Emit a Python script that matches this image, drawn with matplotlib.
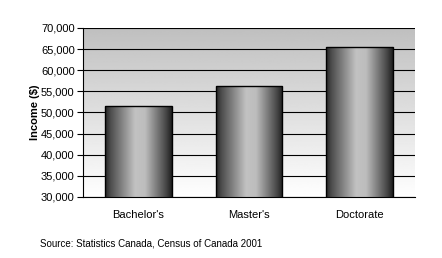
import matplotlib
matplotlib.use('Agg')
import matplotlib.pyplot as plt
import numpy as np
from matplotlib.ticker import FuncFormatter

# data
degrees = ["Bachelor's", "Master's", "Doctorate"]
income = [51600, 56200, 65400]
y_ticks = [30000, 35000, 40000, 45000, 50000, 55000, 60000, 65000, 70000]

plt.rcParams['font.family'] = ['Liberation Sans', 'DejaVu Sans']

fig = plt.figure(figsize=(4.42, 2.58), dpi=100)
ax = fig.add_axes([83/442, 1 - 197/258, 332/442, 169/258])

ax.set_xlim(-0.5, len(degrees) - 0.5)
ax.set_ylim(y_ticks[0], y_ticks[-1])

# background: grey at top fading to white
bg = np.linspace(1.0, 0.75, 256).reshape(-1, 1)
ax.imshow(bg, cmap='gray', vmin=0, vmax=1, aspect='auto',
          extent=[0, 1, 0, 1], transform=ax.transAxes, origin='lower', zorder=0)

# gridlines
for t in y_ticks:
    ax.axhline(t, color='black', lw=0.8, zorder=1)

# cylinder shading profile across a bar
xs = np.linspace(0, 1, 200)
shade = np.interp(xs, [0, 0.08, 0.45, 0.6, 0.9, 1.0],
                  [0.15, 0.3, 0.76, 0.74, 0.3, 0.12])
shade = shade.reshape(1, -1)

bars = ax.bar(range(len(degrees)), income, width=0.6, bottom=0,
              color='none', edgecolor='black', linewidth=1.0, zorder=3)
for b in bars:
    x0 = b.get_x()
    w = b.get_width()
    im = ax.imshow(shade, cmap='gray', vmin=0, vmax=1, aspect='auto',
                   extent=[x0, x0 + w, y_ticks[0], b.get_height()], zorder=2)
    im.set_clip_path(b)

ax.set_xlim(-0.5, len(degrees) - 0.5)
ax.set_ylim(y_ticks[0], y_ticks[-1])

ax.set_yticks(y_ticks)
ax.yaxis.set_major_formatter(FuncFormatter(lambda v, p: '{:,.0f}'.format(v)))
ax.set_xticks(range(len(degrees)))
ax.set_xticklabels(degrees)
ax.tick_params(axis='y', length=4, width=0.8, labelsize=8, pad=2)
ax.tick_params(axis='x', length=0, labelsize=8, pad=9)

for s in ['top', 'right']:
    ax.spines[s].set_visible(False)
ax.spines['left'].set_linewidth(0.8)
ax.spines['bottom'].set_linewidth(0.8)

ax.set_ylabel('Income ($)', fontsize=8, fontweight='bold', labelpad=1)

fig.text(40/442, 1 - 243/258, 'Source: Statistics Canada, Census of Canada 2001',
         fontsize=7, va='center', ha='left')

fig.savefig('out.png', dpi=100)
